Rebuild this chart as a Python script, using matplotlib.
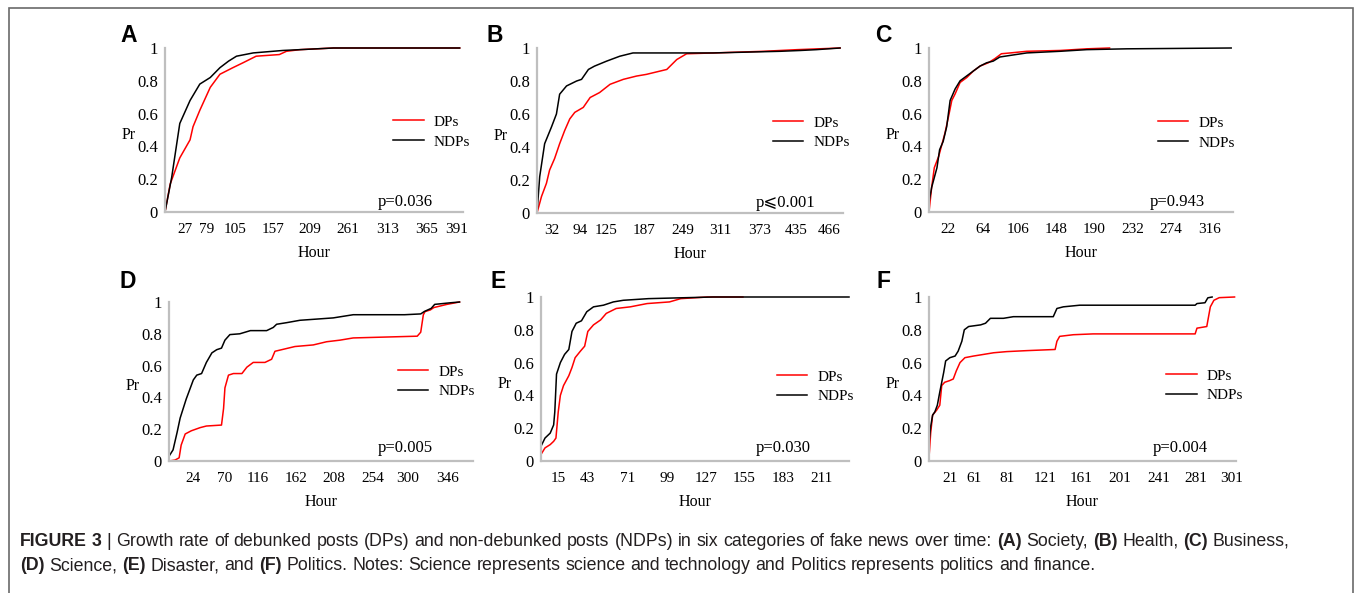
import numpy as np
import matplotlib
matplotlib.use('Agg')
import matplotlib.pyplot as plt
from matplotlib.patches import Rectangle
from matplotlib import font_manager

plt.rcParams['font.family'] = ['Liberation Serif', 'DejaVu Serif', 'DejaVu Sans']

W, H = 1355, 593

# ---------------- data: hour, cumulative proportion ----------------
# (A) Society
a_dp_h = [0, 7, 20, 39, 46, 62, 82, 91, 103, 116, 134, 166, 176, 195, 241, 395]
a_dp_p = [0, 0.17, 0.33, 0.44, 0.52, 0.62, 0.76, 0.84, 0.88, 0.91, 0.95, 0.96, 0.98, 0.99, 1.0, 1.0]
a_ndp_h = [0, 9, 20, 39, 62, 82, 91, 99, 107, 130, 171, 195, 241, 395]
a_ndp_p = [0, 0.21, 0.54, 0.68, 0.78, 0.82, 0.88, 0.92, 0.95, 0.97, 0.985, 0.99, 1.0, 1.0]
a_ticks = [27, 79, 105, 157, 209, 261, 313, 365, 391]

# (B) Health
b_dp_h = [0, 10, 21, 28, 39, 50, 61, 72, 83, 98, 106, 117, 131, 153, 175, 191, 213, 224, 232, 240, 256, 300, 380, 436, 477]
b_dp_p = [0, 0.10, 0.18, 0.26, 0.33, 0.42, 0.50, 0.57, 0.61, 0.64, 0.70, 0.73, 0.78, 0.81, 0.83, 0.84, 0.86, 0.87, 0.90, 0.93, 0.965, 0.97, 0.98, 0.99, 1.0]
b_ndp_h = [0, 6, 17, 32, 43, 50, 65, 87, 96, 104, 111, 125, 147, 169, 202, 300, 408, 439, 454, 477]
b_ndp_p = [0, 0.22, 0.42, 0.52, 0.60, 0.72, 0.77, 0.80, 0.81, 0.87, 0.89, 0.92, 0.95, 0.97, 0.97, 0.97, 0.98, 0.985, 0.99, 1.0]
b_ticks = [32, 94, 125, 187, 249, 311, 373, 435, 466]

# (C) Business
c_dp_h = [0, 3, 6, 11, 14, 18, 22, 26, 30, 36, 44, 52, 60, 70, 78, 86, 97, 116, 153, 182, 207]
c_dp_p = [0, 0.15, 0.27, 0.34, 0.40, 0.48, 0.58, 0.68, 0.72, 0.79, 0.82, 0.86, 0.89, 0.91, 0.935, 0.965, 0.97, 0.98, 0.985, 0.995, 1.0]
c_ndp_h = [0, 3, 9, 12, 16, 20, 24, 30, 36, 44, 52, 60, 68, 76, 84, 97, 116, 153, 182, 226, 340]
c_ndp_p = [0.06, 0.15, 0.27, 0.38, 0.43, 0.52, 0.68, 0.75, 0.80, 0.83, 0.86, 0.89, 0.91, 0.92, 0.945, 0.955, 0.97, 0.98, 0.99, 0.995, 1.0]
c_ticks = [22, 64, 106, 148, 190, 232, 274, 316]

# (D) Science
d_dp_h = [0, 6, 10, 12, 16, 22, 34, 43, 65, 68, 70, 75, 82, 94, 101, 110, 125, 133, 137, 145, 161, 183, 199, 215, 231, 311, 315, 318, 320, 326, 330, 345, 360]
d_dp_p = [0, 0.006, 0.02, 0.10, 0.17, 0.19, 0.21, 0.22, 0.226, 0.33, 0.46, 0.54, 0.55, 0.55, 0.59, 0.62, 0.62, 0.64, 0.69, 0.70, 0.72, 0.73, 0.75, 0.76, 0.774, 0.785, 0.81, 0.92, 0.94, 0.95, 0.965, 0.985, 1.0]
d_ndp_h = [0, 4, 8, 11, 17, 24, 29, 36, 43, 51, 58, 65, 70, 77, 91, 106, 127, 135, 139, 151, 167, 207, 231, 296, 315, 319, 327, 331, 349, 360]
d_ndp_p = [0.03, 0.07, 0.18, 0.27, 0.39, 0.51, 0.54, 0.55, 0.62, 0.68, 0.70, 0.71, 0.76, 0.795, 0.80, 0.82, 0.82, 0.84, 0.86, 0.87, 0.885, 0.90, 0.92, 0.92, 0.925, 0.94, 0.96, 0.985, 0.995, 1.0]
d_ticks = [24, 70, 116, 162, 208, 254, 300, 346]

# (E) Disaster
e_dp_h = [0, 3.5, 8, 11, 13, 15, 17, 20, 25, 28, 31, 36, 40, 43, 47, 52, 56, 63, 73, 85, 101, 109, 128, 154]
e_dp_p = [0.04, 0.08, 0.10, 0.12, 0.14, 0.30, 0.40, 0.46, 0.52, 0.57, 0.63, 0.67, 0.70, 0.79, 0.83, 0.86, 0.90, 0.93, 0.94, 0.96, 0.97, 0.99, 1.0, 1.0]
e_ndp_h = [0, 3.5, 8, 11, 12, 13.5, 17, 21, 25, 28, 32, 37, 42, 47, 54, 61, 68, 86, 109, 132, 231]
e_ndp_p = [0.09, 0.14, 0.17, 0.22, 0.30, 0.53, 0.60, 0.65, 0.68, 0.79, 0.84, 0.855, 0.91, 0.94, 0.95, 0.97, 0.98, 0.99, 0.995, 1.0, 1.0]
e_ticks = [15, 43, 71, 99, 127, 155, 183, 211]

# (F) Politics
f_dp_h = [0, 1.7, 3.7, 7.8, 11, 13, 16, 21, 27, 32, 38, 46, 60, 65, 73, 81, 102, 132, 134, 137, 152, 173, 280, 281.5, 287, 289, 291, 294, 303]
f_dp_p = [0.02, 0.17, 0.28, 0.31, 0.34, 0.46, 0.48, 0.49, 0.50, 0.55, 0.60, 0.63, 0.64, 0.647, 0.66, 0.667, 0.673, 0.68, 0.73, 0.76, 0.77, 0.775, 0.775, 0.81, 0.82, 0.94, 0.98, 0.996, 1.0]
f_ndp_h = [0, 1.7, 3.7, 6, 8.5, 11, 15, 17, 21.5, 30, 35, 41, 45, 52, 65, 68, 71, 79, 88, 102, 130, 134, 141, 159, 280, 281.5, 286, 287.6, 290]
f_ndp_p = [0.11, 0.21, 0.28, 0.30, 0.34, 0.42, 0.54, 0.61, 0.63, 0.64, 0.67, 0.73, 0.80, 0.82, 0.83, 0.84, 0.87, 0.87, 0.88, 0.88, 0.88, 0.93, 0.94, 0.95, 0.95, 0.96, 0.965, 0.995, 1.0]
f_ticks = [21, 61, 81, 121, 161, 201, 241, 281, 301]

p_texts = ['p=0.036', 'p\u2a7d0.001', 'p=0.943', 'p=0.005', 'p=0.030', 'p=0.004']
letters = ['A', 'B', 'C', 'D', 'E', 'F']

caption1 = ('**FIGURE 3** | Growth rate of debunked posts (DPs) and non-debunked posts (NDPs) in six '
            'categories of fake news over time: **(A)** Society, **(B)** Health, **(C)** Business,')
caption2 = ('**(D)** Science, **(E)** Disaster, and **(F)** Politics. Notes: Science represents science '
            'and technology and Politics represents politics and finance.')

# ---------------- layout ----------------
# axes boxes in pixels (x0, y0, x1, y1)
boxes = [(165, 48, 463, 212), (537, 48, 843, 213), (929, 48, 1233, 212),
         (169, 302, 473, 461), (541, 297, 849, 461), (929, 297, 1236, 461)]
# category-like x axis: where the tick hours sit along each axis (fraction)
scale_h = [[0, 27, 79, 105, 157, 209, 261, 313, 365, 391, 400],
           [0, 32, 94, 125, 187, 249, 311, 373, 435, 466, 480],
           [0, 22, 64, 106, 148, 190, 232, 274, 316, 342],
           [0, 24, 70, 116, 162, 208, 254, 300, 346, 376],
           [0, 15, 43, 71, 99, 127, 155, 183, 211, 231],
           [0, 21, 61, 81, 121, 161, 201, 241, 281, 301, 304]]
scale_f = [[0, .067, .141, .235, .362, .487, .614, .748, .879, .980, 1],
           [0, .047, .140, .227, .349, .475, .598, .726, .847, .955, 1],
           [0, .064, .179, .292, .417, .543, .669, .796, .922, 1],
           [0, .080, .184, .291, .417, .543, .669, .785, .917, 1],
           [0, .056, .152, .281, .408, .536, .660, .787, .911, 1],
           [0, .067, .147, .253, .378, .497, .622, .747, .870, .986, 1]]
leg_pos = [(0.765, 0.591), (0.771, 0.588), (0.753, 0.585),
           (0.753, 0.604), (0.766, 0.555), (0.772, 0.561)]
p_pos = [(0.90, 0.06), (0.908, 0.06), (0.908, 0.06),
         (0.868, 0.08), (0.877, 0.08), (0.909, 0.08)]
letter_pos = [(120, 35), (487, 35), (875, 35), (120, 282), (490, 282), (877, 282)]

series = [(a_dp_h, a_dp_p, a_ndp_h, a_ndp_p, a_ticks),
          (b_dp_h, b_dp_p, b_ndp_h, b_ndp_p, b_ticks),
          (c_dp_h, c_dp_p, c_ndp_h, c_ndp_p, c_ticks),
          (d_dp_h, d_dp_p, d_ndp_h, d_ndp_p, d_ticks),
          (e_dp_h, e_dp_p, e_ndp_h, e_ndp_p, e_ticks),
          (f_dp_h, f_dp_p, f_ndp_h, f_ndp_p, f_ticks)]

fig = plt.figure(figsize=(W / 100, H / 100), dpi=100)
PX = 0.72  # points per pixel

for i, (dph, dpp, ndh, ndp, ticks) in enumerate(series):
    x0, y0, x1, y1 = boxes[i]
    ax = fig.add_axes([x0 / W, 1 - y1 / H, (x1 - x0) / W, (y1 - y0) / H])
    hh, ff = np.array(scale_h[i], float), np.array(scale_f[i], float)
    ax.set_xscale('function', functions=(lambda v, hh=hh, ff=ff: np.interp(v, hh, ff),
                                         lambda v, hh=hh, ff=ff: np.interp(v, ff, hh)))
    ax.plot(dph, dpp, color='#ff0000', lw=1.1, label='DPs', clip_on=False)
    ax.plot(ndh, ndp, color='black', lw=1.1, label='NDPs', clip_on=False)
    ax.set_xlim(0, hh[-1])
    ax.set_ylim(0, 1)
    ax.set_xticks(ticks)
    ax.set_xticklabels([str(t) for t in ticks])
    ax.set_yticks([0, 0.2, 0.4, 0.6, 0.8, 1])
    ax.set_yticklabels(['0', '0.2', '0.4', '0.6', '0.8', '1'])
    ax.minorticks_off()
    ax.tick_params(axis='x', length=0, pad=8, labelsize=11)
    ax.tick_params(axis='y', length=0, pad=5, labelsize=12)
    for s in ['top', 'right']:
        ax.spines[s].set_visible(False)
    for s in ['left', 'bottom']:
        ax.spines[s].set_color('#bfbfbf')
        ax.spines[s].set_linewidth(1.6)
    ax.patch.set_alpha(0)

    ax.annotate('Hour', xy=(0.5, 0), xycoords='axes fraction', xytext=(0, -41 * PX),
                textcoords='offset points', ha='center', va='center', fontsize=11.5)
    ax.annotate('Pr', xy=(0, 0.5), xycoords='axes fraction', xytext=(-36 * PX, -5 * PX),
                textcoords='offset points', ha='center', va='center', fontsize=11.5)
    ax.text(p_pos[i][0], p_pos[i][1], p_texts[i], transform=ax.transAxes,
            ha='right', va='center', fontsize=12)
    ax.legend(loc='upper left', bbox_to_anchor=leg_pos[i], frameon=False, fontsize=11,
              handlelength=2.0, handletextpad=0.65, labelspacing=0.4,
              borderaxespad=0, borderpad=0)

    lx, ly = letter_pos[i]
    fig.text(lx / W, 1 - ly / H, letters[i], fontsize=16.5, fontweight='bold',
             family='Liberation Sans', ha='left', va='center')

# figure frame (open at the bottom)
fig.patches.append(Rectangle((9 / W, -0.05), (1353 - 9) / W, 1.05 - 8 / H,
                             transform=fig.transFigure, fill=False,
                             edgecolor='#6a6a6a', lw=1.2))

# caption with bold runs
try:
    font_manager.findfont('Liberation Sans Narrow', fallback_to_default=False)
    cap_font = 'Liberation Sans Narrow'
except ValueError:
    cap_font = 'Liberation Sans'

renderer = fig.canvas.get_renderer()


def words_of(line):
    out = []
    for k, seg in enumerate(line.split('**')):
        for w in seg.split():
            out.append((w, k % 2 == 1))
    return out


def text_w(s, size, bold):
    t = fig.text(0, 0, s, fontsize=size, family=cap_font,
                 fontweight='bold' if bold else 'normal')
    w = t.get_window_extent(renderer=renderer).width
    t.remove()
    return w


def draw_line(words, x, y, size, sp):
    for w, b in words:
        t = fig.text(x / W, 1 - y / H, w, fontsize=size, family=cap_font,
                     fontweight='bold' if b else 'normal', va='center', ha='left',
                     color='#231f20')
        x += t.get_window_extent(renderer=renderer).width + sp


w1 = words_of(caption1)
w2 = words_of(caption2)
size = 12
sp0 = text_w('x x', size, False) - text_w('xx', size, False)
nat1 = sum(text_w(w, size, b) for w, b in w1) + sp0 * (len(w1) - 1)
size = size * (1290 - 20) / nat1
sp = text_w('x x', size, False) - text_w('xx', size, False)
draw_line(w1, 20, 541, size, sp)
draw_line(w2, 20, 566, size, sp)

fig.savefig('out.png', dpi=100)
